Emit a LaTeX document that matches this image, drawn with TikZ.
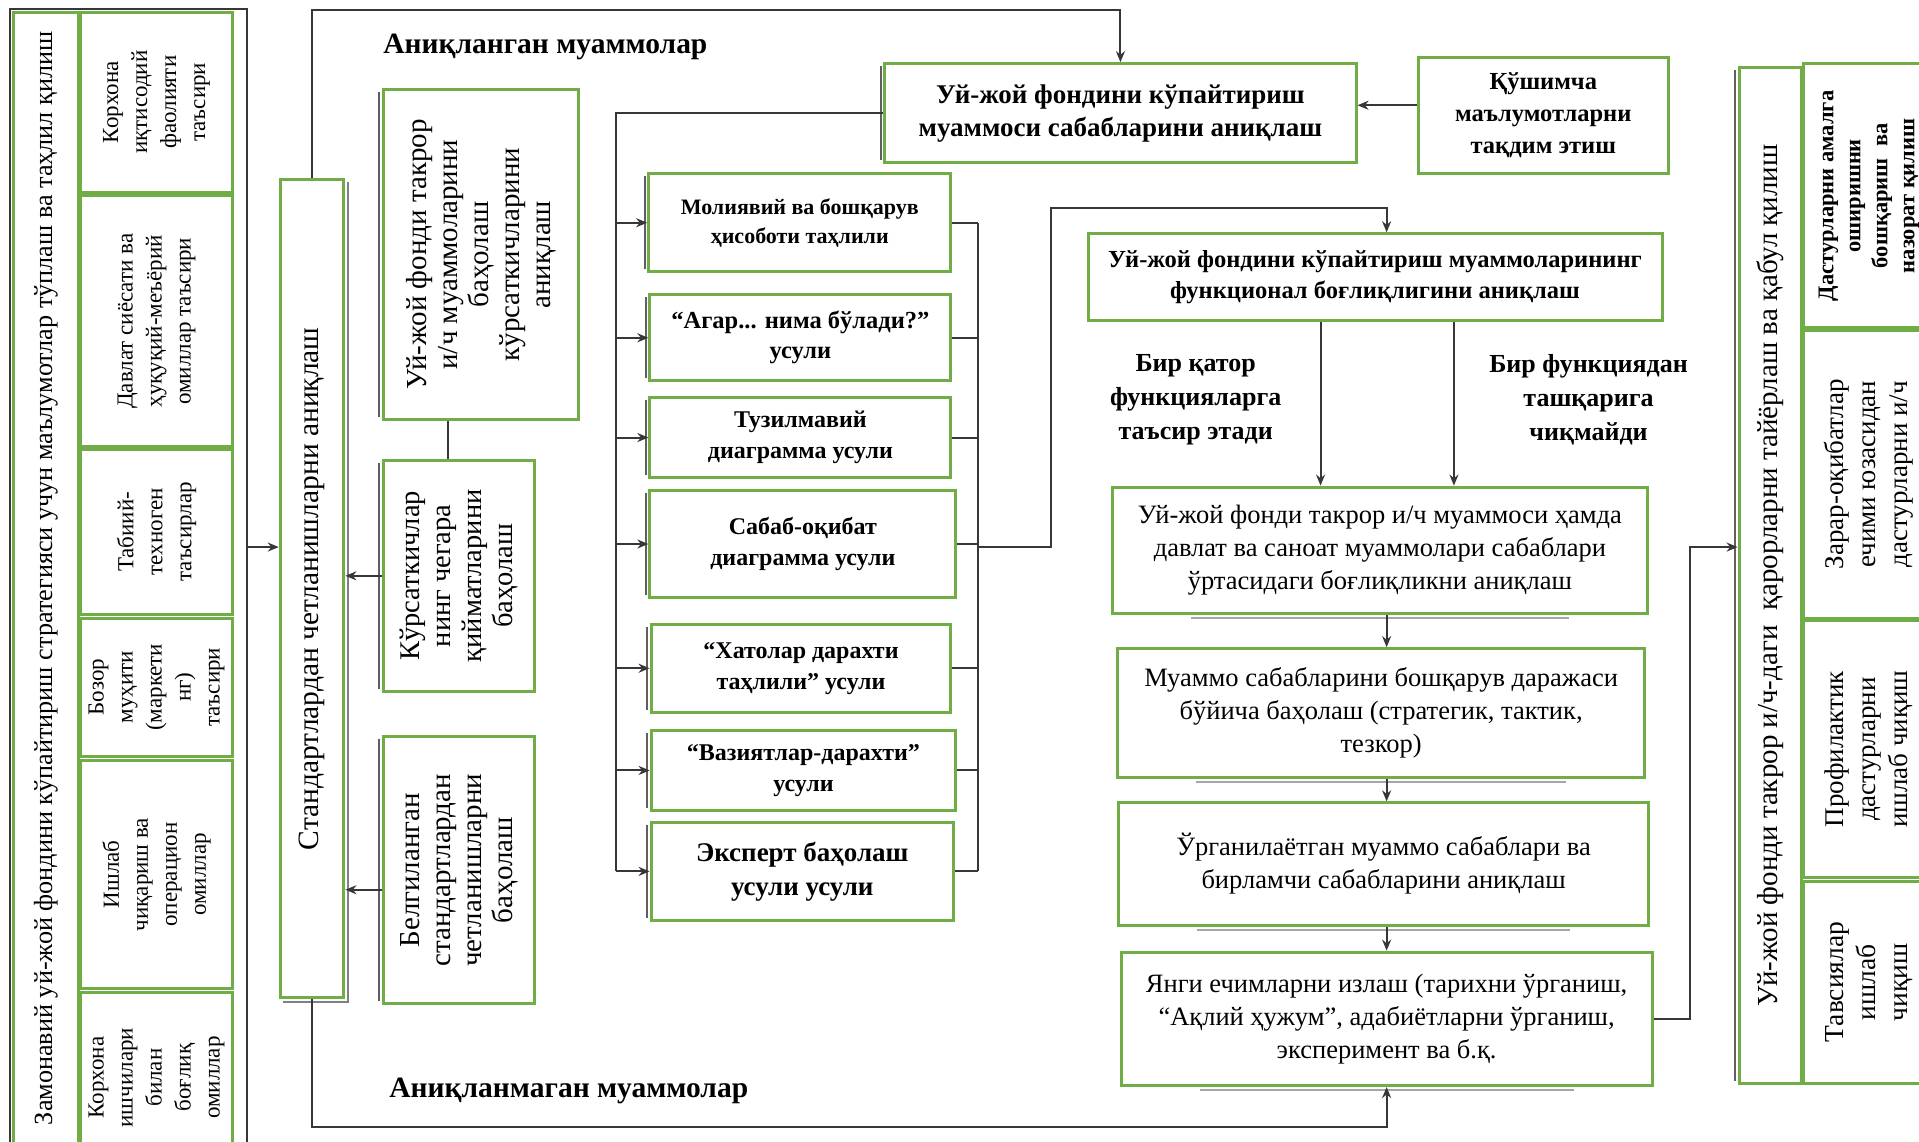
\documentclass[tikz,border=0pt]{standalone}
\usepackage{fontspec}
\setmainfont{Liberation Serif}
\usetikzlibrary{arrows.meta}
\definecolor{gr}{RGB}{112,173,71}
\definecolor{ln}{RGB}{55,55,55}
\definecolor{sh}{RGB}{95,95,95}
\newcommand\fs[2]{\fontsize{#1}{#2}\selectfont}
\tikzset{
 gbox/.style={draw=gr, line width=3pt, inner sep=0pt, fill=white},
 txt/.style={align=center, inner sep=0pt, text=black},
 conn/.style={draw=ln, line width=2pt},
 arr/.style={conn, -{Stealth[length=11pt,width=9pt]}},
 shd/.style={draw=sh, line width=2pt},
 lbl/.style={inner sep=0pt, align=center, font=\bfseries\fs{26}{34}},
 rot/.style={rotate=90},
 col/.style={rot, font=\fs{23}{29}},
 meth/.style={font=\bfseries\fs{23}{29}},
 flow/.style={font=\fs{26.5}{33}},
}
% #1 box opts, #2 text opts, #3 x1, #4 y1, #5 x2, #6 y2, #7 name, #8 text
\newcommand\gb[8]{%
 \node[gbox,minimum width={(#5-#3)*1.2239pt},minimum height={(#6-#4)*1.2239pt},#1] (#7) at ({(#3+#5)/2},{(#4+#6)/2}) {};
 \node[txt,#2] (#7-t) at (#7.center) {#8};}
\begin{document}
\begin{tikzpicture}[x=1.2239pt,y=-1.2239pt]
\useasboundingbox (0,0) rectangle (1568,933);
\clip (0,0) rectangle (1568,933);
\fill[white] (0,0) rectangle (1568,933);
% left frame
\node[draw=ln, line width=2pt, inner sep=0pt, minimum width={(202-8)*1.2239pt}, minimum height={(960-7)*1.2239pt}] (frame) at ({(8+202)/2},{(7+960)/2}) {};
\gb{}{rot,font=\fs{26.2}{30}}{11}{10}{64}{935}{L0}{Замонавий уй-жой фондини кўпайтириш стратегияси учун маълумотлар тўплаш ва таҳлил қилиш}
\gb{}{col}{66}{10}{190}{157}{C1}{Корхона\\иқтисодий\\фаолияти\\таъсири}
\gb{}{col}{66}{160}{190}{365}{C2}{Давлат сиёсати ва\\ҳуқуқий-меъёрий\\омиллар таъсири}
\gb{}{col}{66}{367}{190}{502}{C3}{Табиий-\\техноген\\таъсирлар}
\gb{}{col}{66}{505}{190}{618}{C4}{Бозор\\муҳити\\(маркети\\нг)\\таъсири}
\gb{}{col}{66}{621}{190}{808}{C5}{Ишлаб\\чиқариш ва\\операцион\\омиллар}
\gb{}{col}{66}{811}{190}{950}{C6}{Корхона\\ишчилари\\билан\\боғлиқ\\омиллар}
% standards
\gb{}{rot,font=\fs{29.5}{32}}{229}{147}{281}{815}{std}{Стандартлардан четланишларни аниқлаш}
\gb{}{rot,font=\fs{29}{31}}{313}{73}{473}{343}{r1}{Уй-жой фонди такрор\\и/ч муаммоларини\\баҳолаш\\кўрсаткичларини\\аниқлаш}
\gb{}{rot,font=\fs{28.5}{31}}{313}{376}{437}{565}{k}{Кўрсаткичлар\\нинг чегара\\қийматларини\\баҳолаш}
\gb{}{rot,font=\fs{29}{31}}{313}{602}{437}{820}{b}{Белгиланган\\стандартлардан\\четланишларни\\баҳолаш}
% top
\gb{}{font=\bfseries\fs{27}{33}}{723}{52}{1108}{133}{top}{Уй-жой фондини кўпайтириш\\муаммоси сабабларини аниқлаш}
\gb{}{font=\bfseries\fs{24.5}{32}}{1159}{47}{1363}{142}{qo}{Қўшимча\\маълумотларни\\тақдим этиш}
% methods
\gb{}{meth,font=\bfseries\fs{22}{29}}{530}{142}{777}{222}{m1}{Молиявий ва бошқарув\\ҳисоботи таҳлили}
\gb{}{meth,font=\bfseries\fs{24.5}{30}}{531}{241}{777}{311}{m2}{“Агар... нима бўлади?”\\усули}
\gb{}{meth,font=\bfseries\fs{24}{31}}{531}{325}{777}{390}{m3}{Тузилмавий\\диаграмма усули}
\gb{}{meth,font=\bfseries\fs{24}{31}}{531}{401}{781}{488}{m4}{Сабаб-оқибат\\диаграмма усули}
\gb{}{meth,font=\bfseries\fs{24}{31}}{532}{510}{777}{582}{m5}{“Хатолар дарахти\\таҳлили” усули}
\gb{}{meth,font=\bfseries\fs{24}{31}}{532}{597}{781}{662}{m6}{“Вазиятлар-дарахти”\\усули}
\gb{}{font=\bfseries\fs{27}{34}}{532}{672}{779}{752}{m7}{Эксперт баҳолаш\\усули усули}
% functional
\gb{}{font=\bfseries\fs{24.5}{31}}{889}{191}{1358}{262}{fun}{Уй-жой фондини кўпайтириш муаммоларининг\\функционал боғлиқлигини аниқлаш}
\gb{}{flow}{909}{398}{1346}{501}{f1}{Уй-жой фонди такрор и/ч муаммоси ҳамда\\давлат ва саноат муаммолари сабаблари\\ўртасидаги боғлиқликни аниқлаш}
\gb{}{flow}{913}{530}{1344}{635}{f2}{Муаммо сабабларини бошқарув даражаси\\бўйича баҳолаш (стратегик, тактик,\\тезкор)}
\gb{}{flow}{914}{656}{1347}{756}{f3}{Ўрганилаётган муаммо сабаблари ва\\бирламчи сабабларини аниқлаш}
\gb{}{flow}{916}{778}{1350}{887}{f4}{Янги ечимларни излаш (тарихни ўрганиш,\\“Ақлий ҳужум”, адабиётларни ўрганиш,\\эксперимент ва б.қ.}
% right
\gb{}{rot,font=\fs{29}{31}}{1421}{55}{1472}{885}{R}{Уй-жой фонди такрор и/ч-даги\ \ қарорларни тайёрлаш ва қабул қилиш}
\gb{}{rot,font=\bfseries\fs{22.5}{27}}{1474}{52}{1580}{268}{R1}{Дастурларни амалга\\оширишни\\бошқариш\ \ ва\\назорат қилиш}
\gb{}{rot,font=\fs{27}{32}}{1474}{270}{1580}{505}{R2}{Зарар-оқибатлар\\ечими юзасидан\\дастурларни и/ч}
\gb{}{rot,font=\fs{27}{32}}{1474}{507}{1580}{717}{R3}{Профилактик\\дастурларни\\ишлаб чиқиш}
\gb{}{rot,font=\fs{27.5}{32}}{1474}{720}{1580}{885}{R4}{Тавсиялар\\ишлаб\\чиқиш}
% labels
\node[lbl, anchor=west, font=\bfseries\fs{29.5}{34}] (lab1) at (313,38) {Аниқланган муаммолар};
\node[lbl, anchor=west, font=\bfseries\fs{29.5}{34}] (lab2) at (318,891) {Аниқланмаган муаммолар};
\node[lbl] (lab3) at (977,327) {Бир қатор\\функцияларга\\таъсир этади};
\node[lbl] (lab4) at (1298,327) {Бир функциядан\\ташқарига\\чиқмайди};
% shadows
\foreach \n in {m1,m2,m3,m4,m5,m6,m7,top,r1,k,b,R}
  \draw[shd] ([xshift=-2.5pt,yshift=-4pt]\n.north west) -- ([xshift=-2.5pt,yshift=4pt]\n.south west);
\draw[shd,draw=gray] ([xshift=3pt,yshift=-4pt]std.north east) -- ([xshift=3pt,yshift=-3pt]std.south east) -- ([xshift=4pt,yshift=-3pt]std.south west);
\foreach \n in {f1,f2,f3,f4}
  \draw[shd,draw=gray!70] ([xshift=80pt,yshift=-3pt]\n.south west) -- ([xshift=-80pt,yshift=-3pt]\n.south east);
% coordinates
\coordinate (y447) at (0,447);
\coordinate (ytop) at (0,8);
\coordinate (ybot) at (0,921);
\coordinate (x366) at (366,0);
\coordinate (y727) at (0,727);
\coordinate (y86) at (0,86);
\coordinate (xL) at (503,0);
\coordinate (xR) at (799,0);
\coordinate (xj) at (859,170);
\coordinate (xc) at (1133,0);
\coordinate (xa) at (1079,0);
\coordinate (xb) at (1188,0);
\coordinate (xo) at (1381,0);
% connectors
\draw[arr] (frame.east |- y447) -- (std.west |- y447);
\draw[arr] (std.north) -- (std.north |- ytop) -- (top.north |- ytop) -- (top.north);
\draw[arr] (std.south) -- (std.south |- ybot) -- (xc |- ybot) -- (f4.south -| xc);
\draw[conn] (r1.south -| x366) -- (k.north -| x366);
\draw[arr] (k.west) -- (k.west -| std.east);
\draw[arr] (b.west |- y727) -- (std.east |- y727);
\draw[arr] (qo.west |- y86) -- (top.east |- y86);
\draw[conn] (top.west) -- (top.west -| xL) -- (m7.west -| xL);
\foreach \n in {m1,m2,m3,m4,m5,m6,m7}
  \draw[arr] (\n.west -| xL) -- (\n.west);
\foreach \n in {m1,m2,m3,m4,m5,m6,m7}
  \draw[conn] (\n.east) -- (\n.east -| xR);
\draw[conn] (m1.east -| xR) -- (m7.east -| xR);
\draw[arr] (xR |- y447) -- (xj |- y447) -- (xj) -- (xj -| xc) -- (fun.north -| xc);
\draw[arr] (fun.south -| xa) -- (f1.north -| xa);
\draw[arr] (fun.south -| xb) -- (f1.north -| xb);
\draw[arr] (f1.south -| xc) -- (f2.north -| xc);
\draw[arr] (f2.south -| xc) -- (f3.north -| xc);
\draw[arr] (f3.south -| xc) -- (f4.north -| xc);
\draw[arr] (f4.east) -- (f4.east -| xo) -- (xo |- y447) -- (R.west |- y447);
\end{tikzpicture}
\end{document}
